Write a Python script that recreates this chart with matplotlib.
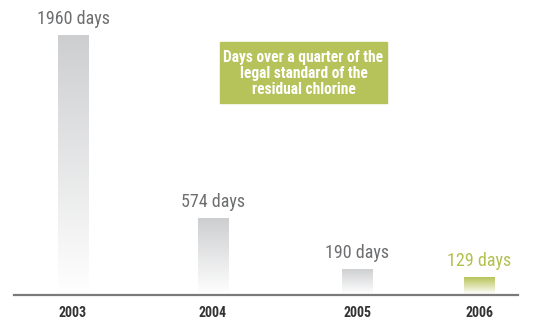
import matplotlib
matplotlib.use("Agg")
import matplotlib.pyplot as plt
import numpy as np
from matplotlib.colors import LinearSegmentedColormap
from matplotlib import font_manager

names = {f.name for f in font_manager.fontManager.ttflist}
narrow = [n for n in ["Roboto Condensed", "Liberation Sans Narrow", "DejaVu Sans Condensed"] if n in names]
plt.rcParams["font.family"] = narrow + ["DejaVu Sans"]

years = ["2003", "2004", "2005", "2006"]
days = [1960, 574, 190, 129]
value_labels = ["1960 days", "574 days", "190 days", "129 days"]
title_text = "Days over a quarter of the\nlegal standard of the\nresidual chlorine"

# layout (pixel-based x positions across the 545px-wide canvas)
centers = [73, 213, 357, 479]
bar_w = 31
W, H = 545, 322
base_px = 28          # baseline height from bottom
top_px = H - 35       # top of tallest bar

gray = "#cdced0"
green = "#b3c04f"
bar_tops = [gray, gray, gray, green]
label_colors = ["#6d6e70", "#6d6e70", "#6d6e70", "#b3c04f"]

fig = plt.figure(figsize=(W / 100, H / 100), dpi=100)
fig.patch.set_facecolor("white")
ax = fig.add_axes([0, base_px / H, 1, (top_px - base_px) / H])
ax.set_xlim(0, W)
ax.set_ylim(0, max(days))
ax.axis("off")

grad = np.linspace(0, 1, 256).reshape(-1, 1)
for cx, v, col, lab, lc in zip(centers, days, bar_tops, value_labels, label_colors):
    rect = ax.bar(cx, v, width=bar_w, color="none", edgecolor="none")[0]
    cmap = LinearSegmentedColormap.from_list("g", ["#ffffff", col])
    im = ax.imshow(grad, cmap=cmap, aspect="auto", origin="lower",
                   extent=(cx - bar_w / 2, cx + bar_w / 2, 0, v), zorder=2)
    im.set_clip_path(rect)
    ax.annotate(lab, (cx, v), xytext=(0, 5), textcoords="offset points",
                ha="center", va="bottom", fontsize=13, color=lc,
                annotation_clip=False)

ax.set_xlim(0, W)
ax.set_ylim(0, max(days))

# baseline
fig.add_artist(plt.Line2D([14 / W, 518 / W], [(base_px - 0.5) / H] * 2,
                          color="#7a7a7a", lw=1.6))

for cx, y in zip(centers, years):
    fig.text(cx / W, 9 / H, y, ha="center", va="center", fontsize=10,
             fontweight="bold", color="#333333")

# caption box
bx0, bx1, by0, by1 = 220, 387, H - 103, H - 42
fig.patches.append(plt.Rectangle((bx0 / W, by0 / H), (bx1 - bx0) / W, (by1 - by0) / H,
                                 transform=fig.transFigure, color="#b5c35a", zorder=1))
fig.text((bx0 + bx1) / 2 / W, (by0 + by1) / 2 / H - 1 / H, title_text, ha="center",
         va="center", fontsize=11.2, fontweight="bold", color="white",
         linespacing=1.05, zorder=3)

fig.savefig("out.png", dpi=100)
